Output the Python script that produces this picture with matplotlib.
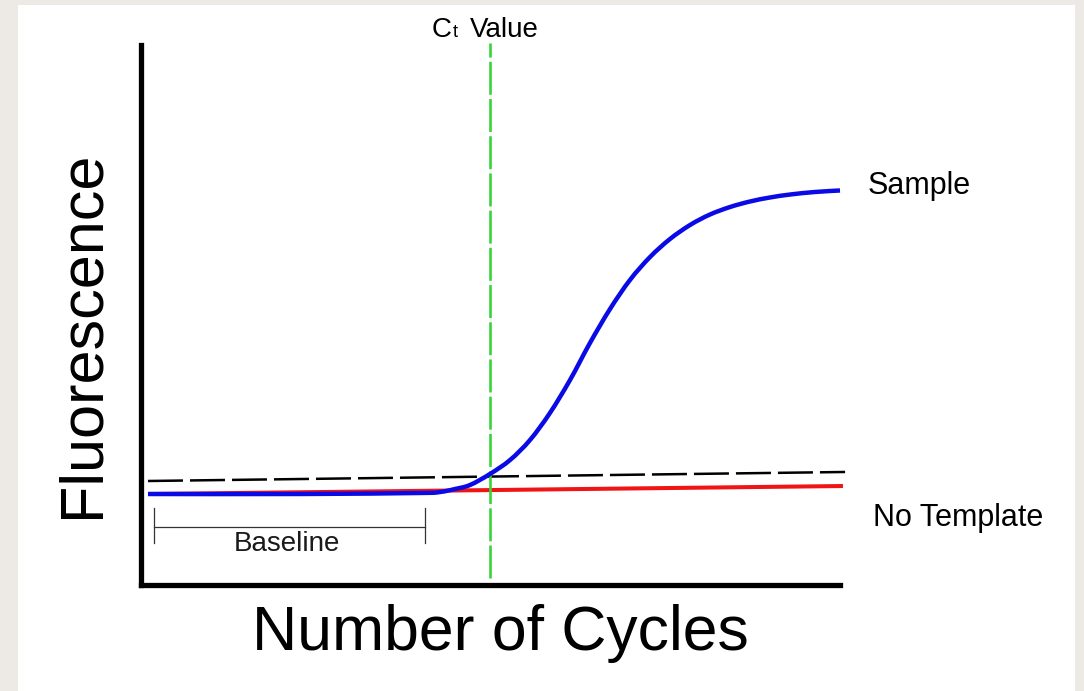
import matplotlib
matplotlib.use("Agg")
import matplotlib.pyplot as plt
from matplotlib.patches import Rectangle, PathPatch
from matplotlib.path import Path

plt.rcParams['font.family'] = ['Liberation Sans', 'DejaVu Sans']

# sample amplification curve (cycle, fluorescence)
sample_cycles = [0.40, 9.10, 15.97, 17.11, 17.97, 18.83, 19.97, 21.12, 22.26,
                 23.40, 24.55, 25.69, 26.84, 27.98, 29.13, 30.27, 31.42, 32.56,
                 33.71, 34.85, 35.99, 37.14, 38.57, 40.00]
sample_fluor = [16.85, 16.85, 17.04, 17.22, 17.78, 18.52, 20.56, 23.15, 26.85,
                31.85, 37.96, 44.81, 51.11, 56.48, 60.74, 64.07, 66.67, 68.61,
                70.00, 71.02, 71.76, 72.31, 72.78, 73.06]

# no template control
ntc_cycles = [0.4, 40.17]
ntc_fluor = [16.85, 18.33]

# threshold line
thresh_cycles = [0.4, 40.29]
thresh_fluor = [19.26, 20.93]

ct_cycle = 20.0
baseline_start, baseline_end = 0.74, 16.25


def smooth_path(xs, ys):
    # Catmull-Rom through the read points, as cubic Bezier segments
    pts = list(zip(xs, ys))
    verts = [pts[0]]
    codes = [Path.MOVETO]
    for i in range(len(pts) - 1):
        p0 = pts[i - 1] if i > 0 else pts[i]
        p1 = pts[i]
        p2 = pts[i + 1]
        p3 = pts[i + 2] if i + 2 < len(pts) else pts[i + 1]
        c1 = (p1[0] + (p2[0] - p0[0]) / 6, p1[1] + (p2[1] - p0[1]) / 6)
        c2 = (p2[0] - (p3[0] - p1[0]) / 6, p2[1] - (p3[1] - p1[1]) / 6)
        verts += [c1, c2, p2]
        codes += [Path.CURVE4] * 3
    return Path(verts, codes)


fig = plt.figure(figsize=(10.84, 6.91), dpi=100)
fig.patch.set_facecolor('#edeae5')
fig.add_artist(Rectangle((18 / 1084, 0), (1075 - 18) / 1084, (691 - 5) / 691,
                         transform=fig.transFigure, facecolor='white',
                         edgecolor='none', zorder=0))

ax = fig.add_axes([141 / 1084, (691 - 585) / 691, 699 / 1084, 540 / 691])
ax.set_facecolor('none')
ax.set_xlim(0, 40)
ax.set_ylim(0, 100)
for s in ['top', 'right']:
    ax.spines[s].set_visible(False)
for s in ['left', 'bottom']:
    ax.spines[s].set_linewidth(3.8)
    ax.spines[s].set_color('black')
ax.set_xticks([])
ax.set_yticks([])

ax.plot(ntc_cycles, ntc_fluor, color='#f01414', lw=2.9, clip_on=False,
        solid_capstyle='butt', zorder=2)
ax.plot(thresh_cycles, thresh_fluor, color='black', lw=1.8, clip_on=False,
        dashes=(14, 2.8), zorder=3)
ax.plot([ct_cycle, ct_cycle], [1.3, 100.4], color='#38d438', lw=1.9,
        clip_on=False, dashes=(12.5, 1.6), zorder=4)
ax.add_patch(PathPatch(smooth_path(sample_cycles, sample_fluor),
                       facecolor='none', edgecolor='#0a0ae6', lw=3.2,
                       capstyle='butt', joinstyle='round', clip_on=False,
                       zorder=5))

# baseline bracket
ax.plot([baseline_start, baseline_end], [10.74, 10.74], color='#333333', lw=0.9)
ax.plot([baseline_start, baseline_start], [7.78, 14.26], color='#333333', lw=0.9)
ax.plot([baseline_end, baseline_end], [7.78, 14.26], color='#333333', lw=0.9)
ax.text(8.35, 6.3, 'Baseline', fontsize=20, ha='center', va='baseline',
        color='#1a1a1a')

# labels
ax.text(41.6, 72.4, 'Sample', fontsize=22, ha='left', va='baseline')
ax.text(41.89, 10.93, 'No Template', fontsize=22, ha='left', va='baseline')

ax.annotate('C', xy=(16.65, 101.5), fontsize=20, ha='left', va='baseline',
            annotation_clip=False)
ax.annotate('t', xy=(16.65, 101.5), xytext=(21, 0), textcoords='offset pixels',
            fontsize=13, ha='left', va='baseline', annotation_clip=False)
ax.annotate('Value', xy=(16.65, 101.5), xytext=(38, 0),
            textcoords='offset pixels', fontsize=20, ha='left', va='baseline',
            annotation_clip=False)

ax.text(-2.46, 46.5, 'Fluorescence', fontsize=44, rotation=90,
        rotation_mode='anchor', ha='center', va='baseline')
ax.text(20.54, -12.04, 'Number of Cycles', fontsize=45, ha='center',
        va='baseline')

plt.savefig('out.png', dpi=100, facecolor=fig.get_facecolor())
